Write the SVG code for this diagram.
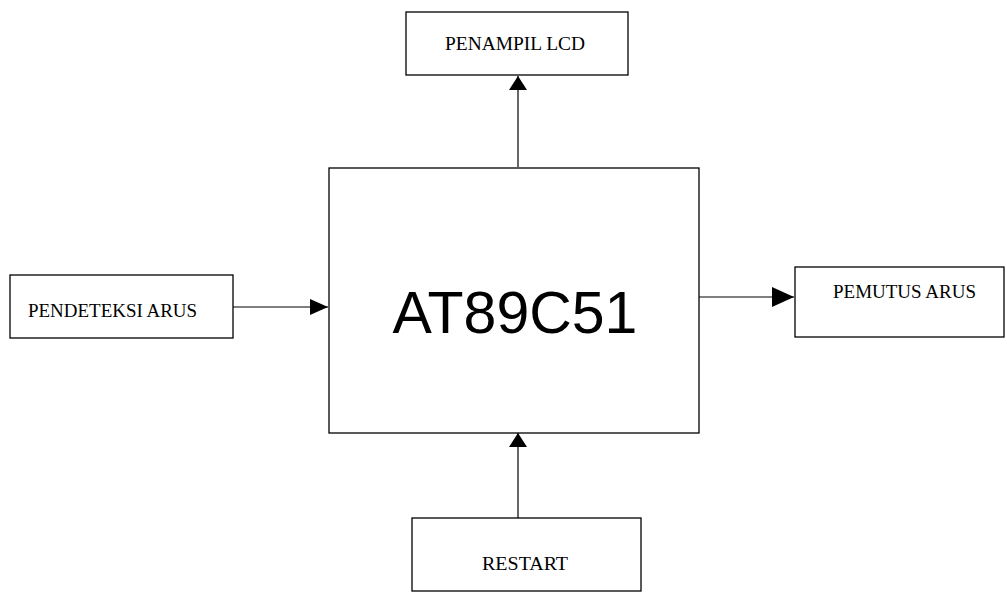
<svg xmlns="http://www.w3.org/2000/svg" width="1007" height="593" viewBox="0 0 1007 593">
<style>
.box{fill:#fff;stroke:#000;stroke-width:1.3}
.lbl{font-family:"Liberation Serif","Times New Roman",serif;font-size:18px;fill:#000}
.big{font-family:"Liberation Sans",Arial,sans-serif;font-size:59px;fill:#000}
.conn{stroke:#000;stroke-width:1.2;fill:none}
</style>
<defs>
<marker id="ahV" viewBox="0 0 10 10" refX="10" refY="5" markerWidth="14" markerHeight="18" markerUnits="userSpaceOnUse" orient="auto" preserveAspectRatio="none">
<path d="M0,0 L10,5 L0,10 Z" fill="#000"/>
</marker>
<marker id="ahS" viewBox="0 0 10 10" refX="10" refY="5" markerWidth="18" markerHeight="16" markerUnits="userSpaceOnUse" orient="auto" preserveAspectRatio="none">
<path d="M0,0 L10,5 L0,10 Z" fill="#000"/>
</marker>
<marker id="ahL" viewBox="0 0 10 10" refX="10" refY="5" markerWidth="22" markerHeight="20" markerUnits="userSpaceOnUse" orient="auto" preserveAspectRatio="none">
<path d="M0,0 L10,5 L0,10 Z" fill="#000"/>
</marker>
</defs>
<rect width="1007" height="593" fill="#fff"/>
<g id="connectors">
<line class="conn" x1="518" y1="167" x2="518" y2="76" marker-end="url(#ahV)"/>
<line class="conn" x1="233" y1="307" x2="328" y2="307" marker-end="url(#ahS)"/>
<line class="conn" x1="699" y1="297" x2="794" y2="297" marker-end="url(#ahL)"/>
<line class="conn" x1="518" y1="518" x2="518" y2="433" marker-end="url(#ahV)"/>
</g>
<g id="lcd">
<rect class="box" x="406" y="12" width="222" height="63"/>
<text class="lbl" x="445" y="50" textLength="140" lengthAdjust="spacingAndGlyphs">PENAMPIL LCD</text>
</g>
<g id="mcu">
<rect class="box" x="329" y="168" width="370" height="265"/>
<text class="big" x="515" y="333" text-anchor="middle">AT89C51</text>
</g>
<g id="sensor">
<rect class="box" x="10" y="275" width="223" height="63"/>
<text class="lbl" x="28" y="317" textLength="169" lengthAdjust="spacingAndGlyphs">PENDETEKSI ARUS</text>
</g>
<g id="breaker">
<rect class="box" x="795" y="267" width="209" height="70"/>
<text class="lbl" x="833" y="298" textLength="143" lengthAdjust="spacingAndGlyphs">PEMUTUS ARUS</text>
</g>
<g id="restart">
<rect class="box" x="412" y="518" width="229" height="73"/>
<text class="lbl" x="482" y="570" textLength="86" lengthAdjust="spacingAndGlyphs">RESTART</text>
</g>
</svg>
